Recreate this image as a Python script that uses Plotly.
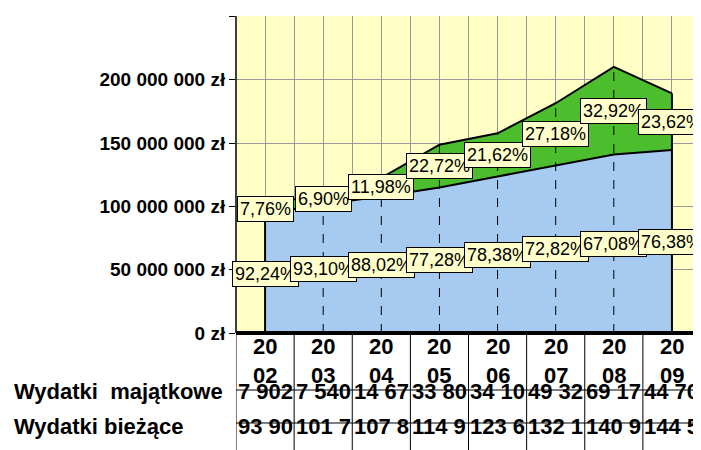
import plotly.graph_objects as go

years = ["2002","2003","2004","2005","2006","2007","2008","2009"]
biezace = [93.90e6,101.7e6,107.8e6,114.9e6,123.6e6,132.1e6,140.9e6,144.5e6]
majatkowe = [7.902e6,7.540e6,14.67e6,33.80e6,34.10e6,49.32e6,69.17e6,44.70e6]
pct_biez = ["92,24%","93,10%","88,02%","77,28%","78,38%","72,82%","67,08%","76,38%"]
pct_maj = ["7,76%","6,90%","11,98%","22,72%","21,62%","27,18%","32,92%","23,62%"]
tbl_maj = ["7 902","7 540","14 67","33 80","34 10","49 32","69 17","44 70"]
tbl_biez = ["93 90","101 7","107 8","114 9","123 6","132 1","140 9","144 5"]
yticks = [0,50e6,100e6,150e6,200e6,250e6]
ytick_text = ["0 zł","50 000 000 zł","100 000 000 zł","150 000 000 zł","200 000 000 zł","250 000 000 zł"]

x = list(range(len(years)))
total = [b+m for b,m in zip(biezace,majatkowe)]
F = "Liberation Sans Narrow, Arial, Liberation Sans, sans-serif"

fig = go.Figure()
fig.add_trace(go.Scatter(x=x,y=biezace,mode="lines",fill="tozeroy",fillcolor="#A6CAF0",
                         line=dict(color="black",width=2),hoverinfo="skip"))
fig.add_trace(go.Scatter(x=x,y=total,mode="lines",fill="tonexty",fillcolor="#4CBE2E",
                         line=dict(color="black",width=2),hoverinfo="skip"))

shapes=[]
for i in x:
    edge = i in (0,len(x)-1)
    shapes.append(dict(type="line",xref="x",yref="y",x0=i,x1=i,y0=0,y1=total[i],
                       line=dict(color="black",width=2 if edge else 1,dash="solid" if edge else "dash"),layer="above"))
anns=[]
for i in x:
    for txt,yy in ((pct_biez[i],biezace[i]/2),(pct_maj[i],biezace[i]+majatkowe[i]/2)):
        anns.append(dict(x=i,y=yy,xref="x",yref="y",text=txt,showarrow=False,
                         bgcolor="#FFFFCC",bordercolor="black",borderwidth=1,borderpad=2,
                         font=dict(family="Arial, Liberation Sans, sans-serif",size=18,color="black")))
H=317.0
r1=-57/H; r2=-90/H; r3=-125/H
for i in x:
    anns.append(dict(x=i,y=(0+r1)/2,xref="x",yref="paper",text="<b>"+years[i][:2]+"<br>"+years[i][2:]+"</b>",
                     showarrow=False,font=dict(family=F,size=22,color="black"),yanchor="middle"))
    anns.append(dict(x=i,y=(r1+r2)/2,xref="x",yref="paper",text="<b>"+tbl_maj[i]+"</b>",
                     showarrow=False,font=dict(family=F,size=22,color="black")))
    anns.append(dict(x=i,y=(r2+r3)/2,xref="x",yref="paper",text="<b>"+tbl_biez[i]+"</b>",
                     showarrow=False,font=dict(family=F,size=22,color="black")))
lx=(4-228)/465
anns.append(dict(x=lx,y=(r1+r2)/2,xref="paper",yref="paper",xanchor="left",text="<b>Wydatki  majątkowe</b>",
                 showarrow=False,font=dict(family=F,size=22,color="black")))
anns.append(dict(x=lx,y=(r2+r3)/2,xref="paper",yref="paper",xanchor="left",text="<b>Wydatki bieżące</b>",
                 showarrow=False,font=dict(family=F,size=22,color="black")))
for k in range(len(x)+1):
    shapes.append(dict(type="line",xref="x",yref="paper",x0=k-0.5,x1=k-0.5,y0=0,y1=r3,line=dict(color="black",width=1)))
for yy in (r1,r2):
    shapes.append(dict(type="line",xref="x",yref="paper",x0=-0.5,x1=7.5,y0=yy,y1=yy,line=dict(color="black",width=1)))
shapes.append(dict(type="line",xref="paper",yref="paper",x0=0,x1=1,y0=0,y1=0,line=dict(color="black",width=4),layer="above"))
shapes.append(dict(type="line",xref="paper",yref="paper",x0=0,x1=0,y0=0,y1=1,line=dict(color="black",width=1.5),layer="above"))

fig.update_layout(width=701,height=450,margin=dict(l=228,r=8,t=8,b=125),
                  paper_bgcolor="white",plot_bgcolor="#FFFFC6",showlegend=False,
                  shapes=shapes,annotations=anns,
                  xaxis=dict(range=[-0.5,7.5],tickvals=[v/2 for v in range(-1,16)],showticklabels=False,
                             showgrid=True,gridcolor="#999999",gridwidth=1,zeroline=False,ticks=""),
                  yaxis=dict(range=[0,250.3e6],tickvals=yticks,ticktext=ytick_text,showgrid=True,
                             gridcolor="#999999",zeroline=False,ticks="outside",ticklen=6,tickcolor="black",
                             tickfont=dict(family="Arial, Liberation Sans, sans-serif",size=19,color="black",weight="bold")))
fig.write_html("out.html")
